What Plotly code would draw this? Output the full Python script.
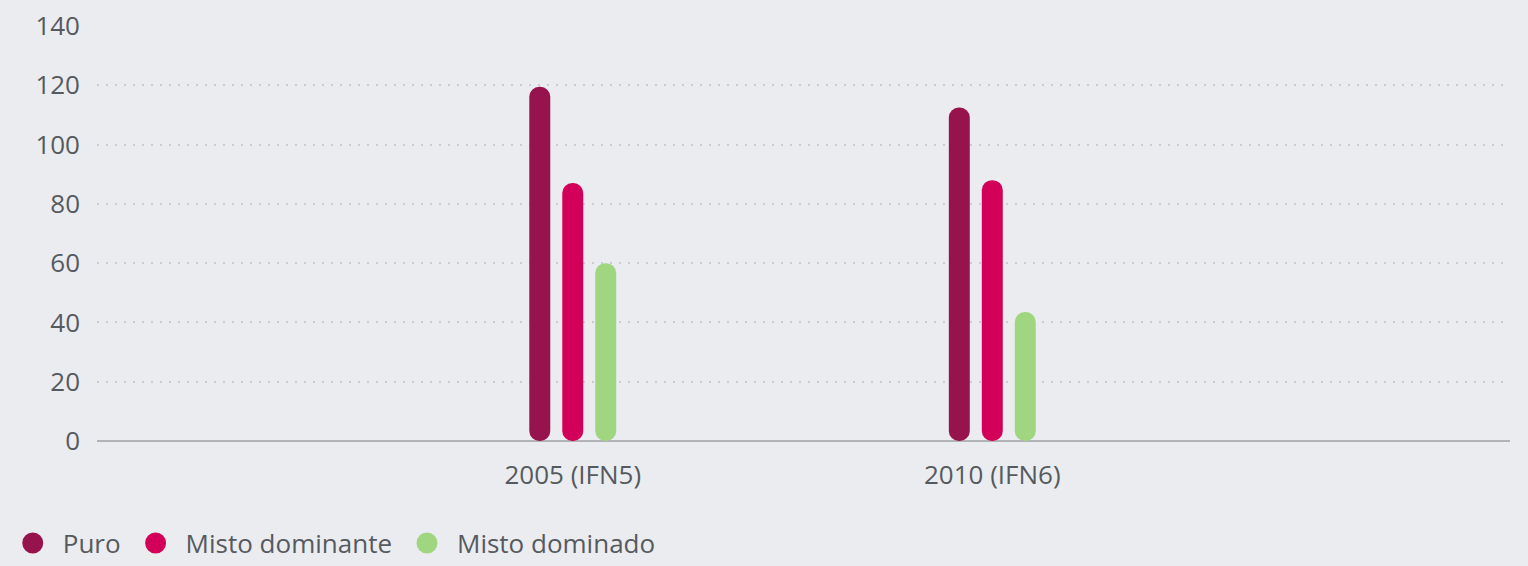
import plotly.graph_objects as go

categories = ["2005 (IFN5)", "2010 (IFN6)"]
series_names = ["Puro", "Misto dominante", "Misto dominado"]
puro = [119.5, 112.5]
misto_dominante = [87, 88]
misto_dominado = [60, 43.5]
y_ticks = [0, 20, 40, 60, 80, 100, 120, 140]

colors = ["#97134e", "#d3005a", "#a0d680"]
values = [puro, misto_dominante, misto_dominado]

FONT = "Open Sans"
TEXT = "#555a5f"
BG = "#ebecf0"

x_pos = list(range(len(categories)))
bar_w = 0.05
step = 0.0786

fig = go.Figure()
for k, (name, vals, col) in enumerate(zip(series_names, values, colors)):
    off = (k - 1) * step - bar_w / 2
    fig.add_trace(go.Bar(x=x_pos, y=vals, base=[0] * len(vals), width=bar_w, offset=off,
                         marker=dict(color=col, cornerradius="50%", line_width=0),
                         showlegend=False, name=name,
                         hovertemplate=name + ": %{y}<extra></extra>"))

for name, col in zip(series_names, colors):
    fig.add_trace(go.Scatter(x=[None], y=[None], mode="markers", name=name,
                             marker=dict(color=col, size=16, symbol="circle",
                                         line=dict(color=col, width=5)),
                             showlegend=True))

fig.update_layout(
    width=1528, height=566,
    paper_bgcolor=BG, plot_bgcolor=BG,
    barmode="overlay",
    margin=dict(l=97, r=18, t=26, b=125, autoexpand=False),
    font=dict(family=FONT, color=TEXT, size=26),
    showlegend=True,
    legend=dict(orientation="h", x=-0.0667, xanchor="left", y=-0.246, yanchor="middle",
                font=dict(size=26, color=TEXT), itemsizing="trace", itemwidth=50,
                bgcolor="rgba(0,0,0,0)", traceorder="normal"),
    xaxis=dict(range=[-1.134, 2.234], tickvals=x_pos, ticktext=categories,
               showgrid=False, zeroline=False, showline=False,
               ticks="", ticklabelstandoff=16, tickfont=dict(size=26, color=TEXT)),
    yaxis=dict(range=[0, 140], tickvals=y_ticks, showgrid=True,
               gridcolor="#cbcdd2", gridwidth=2, griddash="2px,7px",
               zeroline=True, zerolinecolor="#b1b3b7", zerolinewidth=2,
               showline=False, ticks="", ticklabelstandoff=16,
               tickfont=dict(size=26, color=TEXT)),
)

fig.write_html("out.html", config={"displayModeBar": False},
               post_script="document.body.style.margin='0';document.body.style.overflow='hidden';")
